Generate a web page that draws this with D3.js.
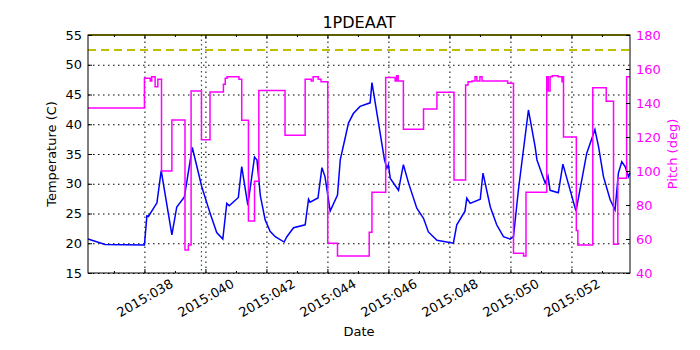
<!DOCTYPE html>
<html lang="en">
<head>
  <meta charset="UTF-8">
  <title>1PDEAAT</title>
  <style>
    body { margin: 0; background: #fff; }
    text { font-family: "DejaVu Sans", sans-serif; }
  </style>
</head>
<body>
  <div id="chart"></div>
  <script src="https://d3js.org/d3.v7.min.js"></script>
  <script>
    const width = 700
    const height = 350
    const margin = { top: 35, right: 70, bottom: 77, left: 88 }
    const w = width - margin.left - margin.right
    const h = height - margin.top - margin.bottom

    // day of year 2015 (decimal) and temperature (C)
    const tempDay = [36.15, 36.71, 38.00, 38.08, 38.13, 38.41, 38.55, 38.90, 39.06, 39.31,
      39.57, 39.88, 40.10, 40.19, 40.37, 40.57, 40.70, 40.78, 41.08, 41.19,
      41.39, 41.61, 41.69, 41.80, 41.96, 42.12, 42.29, 42.58, 42.67, 42.89,
      43.27, 43.38, 43.43, 43.69, 43.82, 43.92, 44.09, 44.33, 44.42, 44.59,
      44.69, 44.85, 45.07, 45.29, 45.40, 45.46, 45.87, 45.95, 46.00, 46.06,
      46.33, 46.49, 46.66, 46.93, 47.15, 47.31, 47.59, 48.13, 48.24, 48.51,
      48.57, 48.68, 49.01, 49.10, 49.34, 49.55, 49.77, 49.99, 50.10, 50.26,
      50.59, 50.81, 50.87, 51.14, 51.23, 51.30, 51.57, 51.72, 51.85, 52.15,
      52.50, 52.77, 52.89, 53.05, 53.27, 53.43, 53.54, 53.65, 53.76, 53.87, 53.92]
    const tempVal = [20.7, 19.8, 19.7, 24.6, 24.5, 26.8, 32.2, 21.4, 26.1, 27.8,
      36.1, 29.5, 25.9, 24.5, 21.8, 20.7, 26.7, 26.3, 27.7, 32.9,
      26.4, 34.5, 34.0, 28.0, 23.9, 22.0, 21.1, 20.2, 21.1, 22.6,
      23.1, 27.4, 26.9, 27.6, 32.7, 31.2, 25.4, 28.1, 34.0, 37.9,
      40.2, 41.8, 43.0, 43.4, 43.6, 47.0, 34.0, 32.6, 33.2, 30.9,
      28.9, 33.2, 30.1, 25.9, 24.2, 21.9, 20.5, 20.0, 23.1, 25.4,
      27.6, 26.7, 27.4, 31.8, 26.1, 23.1, 21.1, 20.7, 21.1, 28.9,
      42.4, 36.2, 34.0, 30.1, 31.3, 28.9, 28.5, 33.3, 30.9, 25.4,
      35.1, 39.1, 36.2, 31.2, 27.3, 25.6, 31.8, 33.7, 32.9, 31.2, 31.8]

    // pitch (deg), held until the next change
    const pitchDay = [36.15, 38.00, 38.19, 38.24, 38.35, 38.44, 38.56, 38.90, 39.33, 39.44,
      39.53, 39.87, 40.15, 40.59, 40.65, 40.71, 41.10, 41.19, 41.41, 41.61,
      41.75, 42.61, 43.27, 43.47, 43.53, 43.70, 43.79, 44.01, 44.33, 45.37,
      45.46, 45.91, 46.22, 46.27, 46.32, 46.49, 47.15, 47.59, 48.15, 48.53,
      48.61, 48.74, 48.84, 48.90, 49.00, 49.07, 49.91, 50.10, 50.43, 50.51,
      51.19, 51.24, 51.30, 51.37, 51.56, 51.69, 51.72, 51.74, 52.16, 52.21,
      52.70, 53.14, 53.38, 53.52, 53.81, 53.92]
    const pitchVal = [137, 154.5, 153, 155.5, 149.5, 154, 100, 130, 53.5, 56.5,
      147, 118.4, 146.5, 151, 154.5, 155.5, 154, 129.8, 70.6, 94,
      147.3, 121, 154, 153, 155.5, 154, 152.5, 57.5, 50, 64,
      87.5, 155, 153, 156, 153, 124.5, 136.5, 146.3, 94.7, 150.6,
      152.5, 153, 155.5, 153, 155.5, 153, 151.6, 51.6, 50, 87.5,
      155.5, 147, 155.5, 156, 155.5, 152.5, 155.5, 120, 65, 56.5,
      149, 141, 56.9, 95.7, 155.5, 155.5]

    const dateTicks = [38, 40, 42, 44, 46, 48, 50, 52]
    const dateMinor = [37, 39, 41, 43, 45, 47, 49, 51, 53]
    const tempTicks = [15, 20, 25, 30, 35, 40, 45, 50, 55]
    const pitchTicks = [40, 60, 80, 100, 120, 140, 160, 180]
    const tempLimits = [55, 52.5]
    const eventDay = 39.87

    const svg = d3.select('#chart').append('svg')
      .attr('width', width)
      .attr('height', height)

    const g = svg.append('g')
      .attr('transform', `translate(${margin.left}, ${margin.top})`)

    const x = d3.scaleLinear().domain([36.15, 53.92]).range([0, w])
    const yT = d3.scaleLinear().domain([15, 55]).range([h, 0])
    const yP = d3.scaleLinear().domain([40, 180]).range([h, 0])

    // dotted grid
    g.append('g')
      .attr('class', 'grid')
      .call(d3.axisLeft(yT).tickValues(tempTicks).tickSize(-w).tickFormat(''))
    g.append('g')
      .attr('class', 'grid')
      .attr('transform', `translate(0, ${h})`)
      .call(d3.axisBottom(x).tickValues(dateTicks).tickSize(-h).tickFormat(''))
    g.selectAll('.grid .domain').remove()
    g.selectAll('.grid line')
      .attr('stroke', '#000')
      .attr('stroke-width', 1)
      .attr('stroke-dasharray', '1.5,3.5')

    // limit lines
    g.append('line')
      .attr('x1', 0).attr('x2', w)
      .attr('y1', yT(tempLimits[0])).attr('y2', yT(tempLimits[0]))
      .attr('stroke', '#bfbf00').attr('stroke-width', 2)
    g.append('line')
      .attr('x1', 0).attr('x2', w)
      .attr('y1', yT(tempLimits[1])).attr('y2', yT(tempLimits[1]))
      .attr('stroke', '#bfbf00').attr('stroke-width', 2)
      .attr('stroke-dasharray', '8,5')

    // event marker
    g.append('line')
      .attr('x1', x(eventDay)).attr('x2', x(eventDay))
      .attr('y1', 0).attr('y2', h)
      .attr('stroke', '#008000').attr('stroke-width', 1.2)
      .attr('stroke-dasharray', '1.5,3')

    const tempLine = d3.line()
      .x((d, i) => x(tempDay[i]))
      .y(d => yT(d))
    g.append('path')
      .attr('d', tempLine(tempVal))
      .attr('fill', 'none')
      .attr('stroke', '#0000ff')
      .attr('stroke-width', 1.5)

    const pitchLine = d3.line()
      .x((d, i) => x(pitchDay[i]))
      .y(d => yP(d))
      .curve(d3.curveStepAfter)
    g.append('path')
      .attr('d', pitchLine(pitchVal))
      .attr('fill', 'none')
      .attr('stroke', '#ff00ff')
      .attr('stroke-width', 1.5)

    // axes with inward ticks
    const fmt = d => '2015:' + String(d).padStart(3, '0')
    const xAxis = g.append('g')
      .attr('transform', `translate(0, ${h})`)
      .call(d3.axisBottom(x).tickValues(dateTicks).tickSize(-4).tickSizeOuter(0).tickFormat(fmt))
    xAxis.selectAll('text')
      .attr('y', 0)
      .attr('dy', '0.35em')
      .attr('text-anchor', 'middle')
      .attr('transform', 'translate(0, 25) rotate(-30)')
    g.append('g')
      .attr('transform', `translate(0, ${h})`)
      .call(d3.axisBottom(x).tickValues(dateMinor).tickSize(-2).tickSizeOuter(0).tickFormat(''))
    g.append('g')
      .call(d3.axisTop(x).tickValues(dateTicks).tickSize(-4).tickSizeOuter(0).tickFormat(''))
    g.append('g')
      .call(d3.axisTop(x).tickValues(dateMinor).tickSize(-2).tickSizeOuter(0).tickFormat(''))

    g.append('g')
      .call(d3.axisLeft(yT).tickValues(tempTicks).tickSize(-4).tickSizeOuter(0).tickPadding(6))

    const right = g.append('g')
      .attr('transform', `translate(${w}, 0)`)
      .call(d3.axisRight(yP).tickValues(pitchTicks).tickSize(-4).tickSizeOuter(0).tickPadding(6))
    right.selectAll('text').attr('fill', '#ff00ff')

    g.selectAll('.tick text')
      .attr('font-family', '"DejaVu Sans", sans-serif')
      .attr('font-size', 13)
    g.selectAll('.domain').remove()

    // frame
    g.append('rect')
      .attr('width', w).attr('height', h)
      .attr('fill', 'none')
      .attr('stroke', '#000')
      .attr('stroke-width', 1)

    // labels
    svg.append('text')
      .attr('x', margin.left + w / 2).attr('y', 28)
      .attr('text-anchor', 'middle')
      .attr('font-size', 16)
      .text('1PDEAAT')
    svg.append('text')
      .attr('x', margin.left + w / 2).attr('y', 336)
      .attr('text-anchor', 'middle')
      .attr('font-size', 13)
      .text('Date')
    svg.append('text')
      .attr('transform', `translate(56, ${margin.top + h / 2}) rotate(-90)`)
      .attr('text-anchor', 'middle')
      .attr('font-size', 13)
      .text('Temperature (C)')
    svg.append('text')
      .attr('transform', `translate(677, ${margin.top + h / 2}) rotate(-90)`)
      .attr('text-anchor', 'middle')
      .attr('font-size', 13)
      .attr('fill', '#ff00ff')
      .text('Pitch (deg)')
  </script>
</body>
</html>
